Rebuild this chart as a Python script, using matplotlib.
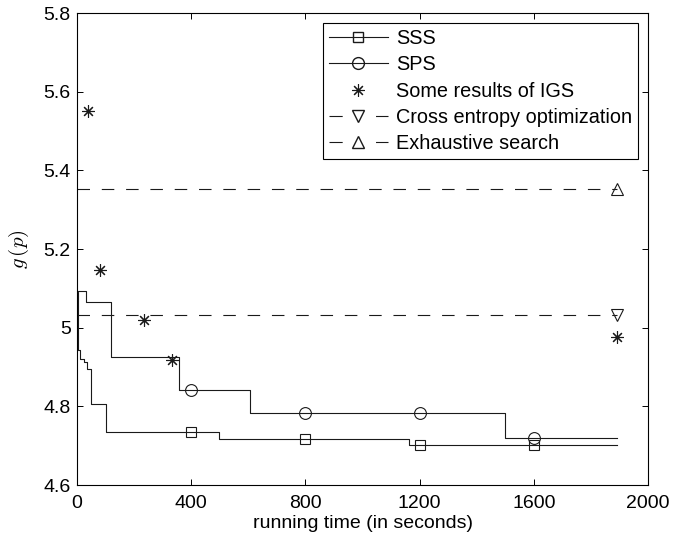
import numpy as np
import matplotlib
matplotlib.use("Agg")
import matplotlib.pyplot as plt
from matplotlib.lines import Line2D
from matplotlib.ticker import FormatStrFormatter

plt.rcParams["font.family"] = ["Liberation Sans", "DejaVu Sans"]
plt.rcParams["mathtext.fontset"] = "cm"
plt.rcParams["lines.scale_dashes"] = False

# step curves (running time in s, g(p))
sss_t = [0, 3, 12, 24, 36, 50, 102, 498, 1164, 1890]
sss_g = [5.09, 4.943, 4.92, 4.914, 4.895, 4.805, 4.734, 4.717, 4.701, 4.701]
sps_t = [0, 30, 120, 356, 604, 1500, 1890]
sps_g = [5.093, 5.065, 4.926, 4.841, 4.784, 4.719, 4.719]

# marker positions on the curves
mark_t = [400, 800, 1200, 1600]
sss_mark_g = [4.734, 4.717, 4.701, 4.701]
sps_mark_g = [4.841, 4.784, 4.784, 4.719]

# IGS results
igs_t = [40, 79, 234, 333, 1891]
igs_g = [5.552, 5.147, 5.020, 4.918, 4.977]

# reference levels
ce_val = 5.032
ex_val = 5.353
ref_t = [0, 1891]

col = "#1a1a1a"
lw = 0.8
star = (8, 2, 0)

fig = plt.figure(figsize=(6.88, 5.42), dpi=100)
ax = fig.add_axes([0.112, 0.105, 0.830, 0.871])

ax.plot(sss_t, sss_g, drawstyle="steps-post", color=col, lw=lw)
ax.plot(mark_t, sss_mark_g, ls="none", marker="s", ms=7, mfc="none", mec=col, mew=lw)
ax.plot(sps_t, sps_g, drawstyle="steps-post", color=col, lw=lw)
ax.plot(mark_t, sps_mark_g, ls="none", marker="o", ms=8.5, mfc="none", mec=col, mew=lw)
ax.plot(igs_t, igs_g, ls="none", marker=star, ms=9, color=col, mew=lw)

ax.plot(ref_t, [ce_val, ce_val], color=col, lw=lw, dashes=(9, 8.5))
ax.plot(ref_t[-1], ce_val, ls="none", marker="v", ms=9, mfc="none", mec=col, mew=lw)
ax.plot(ref_t, [ex_val, ex_val], color=col, lw=lw, dashes=(9, 8.5))
ax.plot(ref_t[-1], ex_val, ls="none", marker="^", ms=9, mfc="none", mec=col, mew=lw)

ax.set_xlim(0, 2000)
ax.set_ylim(4.6, 5.8)
ax.set_xticks(np.arange(0, 2001, 400))
ax.set_yticks(np.arange(4.6, 5.81, 0.2))
ax.yaxis.set_major_formatter(FormatStrFormatter("%g"))
ax.tick_params(direction="in", top=True, right=True, length=4, width=0.7,
               labelsize=14, colors="black")
ax.tick_params(axis="x", pad=7)
ax.tick_params(axis="y", pad=4.5)
for s in ax.spines.values():
    s.set_linewidth(0.8)

ax.set_xlabel("running time (in seconds)", fontsize=14, labelpad=2)
ax.set_ylabel("$g\\,(p)$", fontsize=15, labelpad=9)

handles = [
    Line2D([], [], color=col, lw=lw, marker="s", ms=7, mfc="none", mec=col),
    Line2D([], [], color=col, lw=lw, marker="o", ms=8.5, mfc="none", mec=col),
    Line2D([], [], ls="none", marker=star, ms=9, color=col, mew=lw),
    Line2D([], [], color=col, lw=lw, dashes=(9.5, 24), marker="v", ms=9, mfc="none", mec=col),
    Line2D([], [], color=col, lw=lw, dashes=(9.5, 24), marker="^", ms=9, mfc="none", mec=col),
]
labels = ["SSS", "SPS", "Some results of IGS", "Cross entropy optimization", "Exhaustive search"]
leg = ax.legend(handles, labels, loc="upper right", fontsize=14.3, frameon=True,
                fancybox=False, framealpha=1, edgecolor="black", handlelength=3.0,
                handletextpad=0.4, labelspacing=0.37, borderpad=0.3,
                borderaxespad=0.5)
leg.get_frame().set_linewidth(0.8)

fig.savefig("out.png", dpi=100)
